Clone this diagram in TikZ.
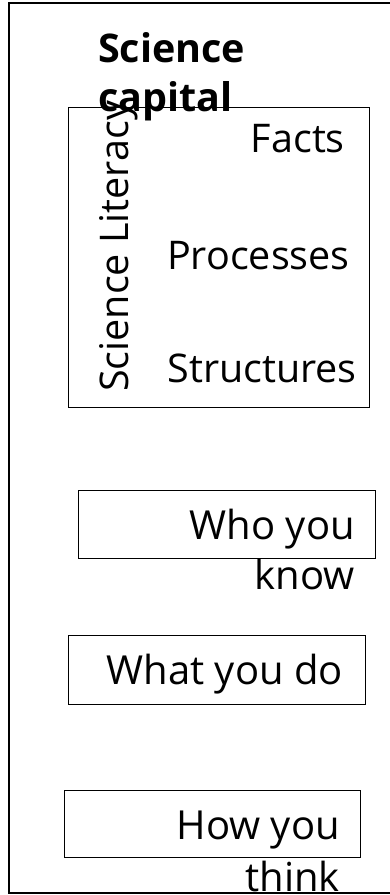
\documentclass[tikz,border=0pt]{standalone}
\usepackage{fontspec}
\setmainfont{Open Sans}
\begin{document}
\begin{tikzpicture}[x=1pt,y=1pt,
  frame/.style={draw=black, line width=1.3pt},
  box/.style={draw=black, line width=1pt},
  lbl/.style={inner sep=0pt, font=\fontsize{39.5}{47}\selectfont},
  big/.style={inner sep=0pt, font=\fontsize{40}{48}\selectfont},
  head/.style={inner sep=0pt, font=\fontsize{39.5}{47}\selectfont\bfseries}]
\useasboundingbox (0,0) rectangle (390,895);
\draw[frame] (9,2) rectangle (392,892);
\draw[box] (68,487) rectangle (369,787);
\draw[box] (78,336) rectangle (375,404);
\draw[box] (68,190) rectangle (365,259);
\draw[box] (64,37) rectangle (360,104);
\node[head, anchor=base west] (sc1) at (98,832) {Science};
\node[head, anchor=base west] (sc2) at (98,783) {capital};
\node[lbl, anchor=base west, rotate=90] (lit) at (128,503) {Science Literacy};
\node[lbl, anchor=base east] (facts) at (345,742) {Facts};
\node[lbl, anchor=base east] (proc) at (350,625) {Processes};
\node[lbl, anchor=base east] (struct) at (357,512) {Structures};
\node[big, anchor=base east] (who1) at (355,355) {Who you};
\node[big, anchor=base east] (who2) at (355,305) {know};
\node[big, anchor=base east] (what) at (343,210) {What you do};
\node[big, anchor=base east] (how1) at (340,55) {How you};
\node[big, anchor=base east] (how2) at (340,3) {think};
\end{tikzpicture}
\end{document}
